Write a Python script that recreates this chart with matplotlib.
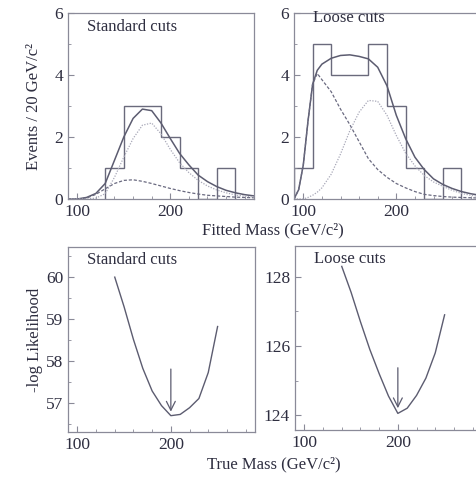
import matplotlib
matplotlib.use("Agg")
import matplotlib.pyplot as plt
from matplotlib.ticker import MultipleLocator

plt.rcParams['font.family'] = ['Liberation Serif', 'DejaVu Serif']
plt.rcParams['font.size'] = 12

INK = '#2e2e40'
LINE = '#5c5c70'
EDGE = '#8a8a98'

# ---- top row: fitted mass histograms ----
std_edges = [130, 150, 170, 190, 210, 230, 250, 270]
std_counts = [1, 3, 3, 2, 1, 0, 1]
std_x = [90, 100, 110, 120, 130, 140, 150, 160, 170, 180, 190,
         200, 210, 220, 230, 240, 250, 260, 270, 280, 290]
std_total = [0.0, 0.0, 0.05, 0.18, 0.5, 1.25, 2.0, 2.6, 2.9, 2.85, 2.45,
             1.95, 1.47, 1.1, 0.77, 0.56, 0.4, 0.28, 0.2, 0.14, 0.1]
std_bkg = [0.0, 0.0, 0.03, 0.15, 0.33, 0.5, 0.6, 0.62, 0.57, 0.5, 0.42,
           0.34, 0.27, 0.21, 0.16, 0.12, 0.1, 0.08, 0.06, 0.05, 0.04]
std_sig = [0.0, 0.0, 0.0, 0.03, 0.17, 0.7, 1.35, 1.95, 2.38, 2.45, 2.1,
           1.6, 1.17, 0.85, 0.6, 0.42, 0.29, 0.2, 0.13, 0.09, 0.06]

loose_edges = [90, 110, 130, 150, 170, 190, 210, 230, 250, 270]
loose_counts = [1, 5, 4, 4, 5, 3, 1, 0, 1]
loose_x = [90, 95, 100, 105, 110, 115, 120, 130, 140, 150, 160, 170, 180,
           190, 200, 210, 220, 230, 240, 250, 260, 270, 280, 290]
loose_total = [0.0, 0.3, 1.1, 2.5, 3.7, 4.15, 4.35, 4.54, 4.63, 4.65, 4.6, 4.52, 4.25,
               3.65, 2.7, 1.95, 1.35, 0.95, 0.65, 0.47, 0.34, 0.24, 0.17, 0.12]
loose_bkg = [0.0, 0.3, 1.1, 2.5, 3.7, 4.05, 3.85, 3.46, 2.9, 2.4, 1.85, 1.3, 0.95,
             0.7, 0.5, 0.36, 0.24, 0.15, 0.11, 0.08, 0.06, 0.05, 0.04, 0.03]
loose_sig = [0.0, 0.0, 0.0, 0.05, 0.12, 0.22, 0.36, 0.8, 1.45, 2.2, 2.8, 3.18, 3.15,
             2.7, 2.05, 1.48, 1.07, 0.76, 0.55, 0.41, 0.28, 0.18, 0.12, 0.08]

# ---- bottom row: likelihood scans ----
scan_x = [140, 150, 160, 170, 180, 190, 200, 210, 220, 230, 240, 250]
std_nll = [60.0, 59.29, 58.51, 57.82, 57.28, 56.93, 56.69, 56.72, 56.88, 57.1, 57.72, 58.82]
loose_nll = [128.3, 127.55, 126.7, 125.9, 125.2, 124.55, 124.05, 124.2, 124.57, 125.07, 125.8, 126.9]
best_mass = 200

fig = plt.figure(figsize=(4.77, 4.79), dpi=100)
W, H = 477, 479


def make_ax(x0, y0, w, h):
    ax = fig.add_axes([x0 / W, (H - y0 - h) / H, w / W, h / H])
    for s in ax.spines.values():
        s.set_color(EDGE)
        s.set_linewidth(0.9)
    ax.tick_params(direction='in', which='both', colors=EDGE, labelcolor=INK,
                   labelsize=12.5, top=False, right=False)
    ax.tick_params(which='major', length=4)
    ax.tick_params(which='minor', length=2)
    ax.set_xlim(90, 290)
    ax.set_xticks([100, 200])
    ax.xaxis.set_minor_locator(MultipleLocator(20))
    return ax


def top_panel(ax, x, tot, bkg, sig, edges, counts, title, ty):
    ax.stairs(counts, edges, color='#6a6a7c', lw=1.0)
    ax.plot(x, tot, color=LINE, lw=1.1)
    ax.plot(x, bkg, color='#6a6a80', lw=0.9, ls=(0, (2.5, 1.5)))
    ax.plot(x, sig, color='#a8a8b8', lw=0.9, ls=(0, (1, 1.2)))
    ax.set_ylim(0, 6)
    ax.set_yticks([0, 2, 4, 6])
    ax.yaxis.set_minor_locator(MultipleLocator(1))
    ax.text(0.1, ty, title, transform=ax.transAxes, ha='left', va='center',
            color=INK, fontsize=12)


ax1 = make_ax(68, 13, 186, 186)
top_panel(ax1, std_x, std_total, std_bkg, std_sig, std_edges, std_counts,
          'Standard cuts', 0.925)
ax1.set_ylabel('Events / 20 GeV/c²', color=INK, fontsize=12, labelpad=9)

ax2 = make_ax(294, 13, 186, 186)
top_panel(ax2, loose_x, loose_total, loose_bkg, loose_sig, loose_edges, loose_counts,
          'Loose cuts', 0.975)

ax3 = make_ax(68, 247, 187, 185)
ax3.plot(scan_x, std_nll, color=LINE, lw=1.0)
ax3.set_ylim(56.3, 60.72)
ax3.set_yticks([57, 58, 59, 60])
ax3.yaxis.set_minor_locator(MultipleLocator(0.5))
ax3.annotate('', xy=(best_mass, 56.72), xytext=(best_mass, 57.87),
             arrowprops=dict(arrowstyle='->', color=LINE, lw=0.9,
                             mutation_scale=16))
ax3.text(0.1, 0.928, 'Standard cuts', transform=ax3.transAxes, ha='left',
         va='center', color=INK, fontsize=12)
ax3.set_ylabel('-log Likelihood', color=INK, fontsize=12, labelpad=2)

ax4 = make_ax(295, 246, 187, 184)
ax4.plot(scan_x, loose_nll, color=LINE, lw=1.0)
ax4.set_ylim(123.57, 128.89)
ax4.set_yticks([124, 126, 128])
ax4.yaxis.set_minor_locator(MultipleLocator(1))
ax4.annotate('', xy=(best_mass, 124.12), xytext=(best_mass, 125.45),
             arrowprops=dict(arrowstyle='->', color=LINE, lw=0.9,
                             mutation_scale=16))
ax4.text(0.1, 0.932, 'Loose cuts', transform=ax4.transAxes, ha='left',
         va='center', color=INK, fontsize=12)

fig.text(273 / W, 1 - 230 / H, 'Fitted Mass (GeV/c²)', ha='center', va='center',
         color=INK, fontsize=12)
fig.text(274 / W, 1 - 464 / H, 'True Mass (GeV/c²)', ha='center', va='center',
         color=INK, fontsize=12)

fig.savefig('out.png', dpi=100, facecolor='white')
